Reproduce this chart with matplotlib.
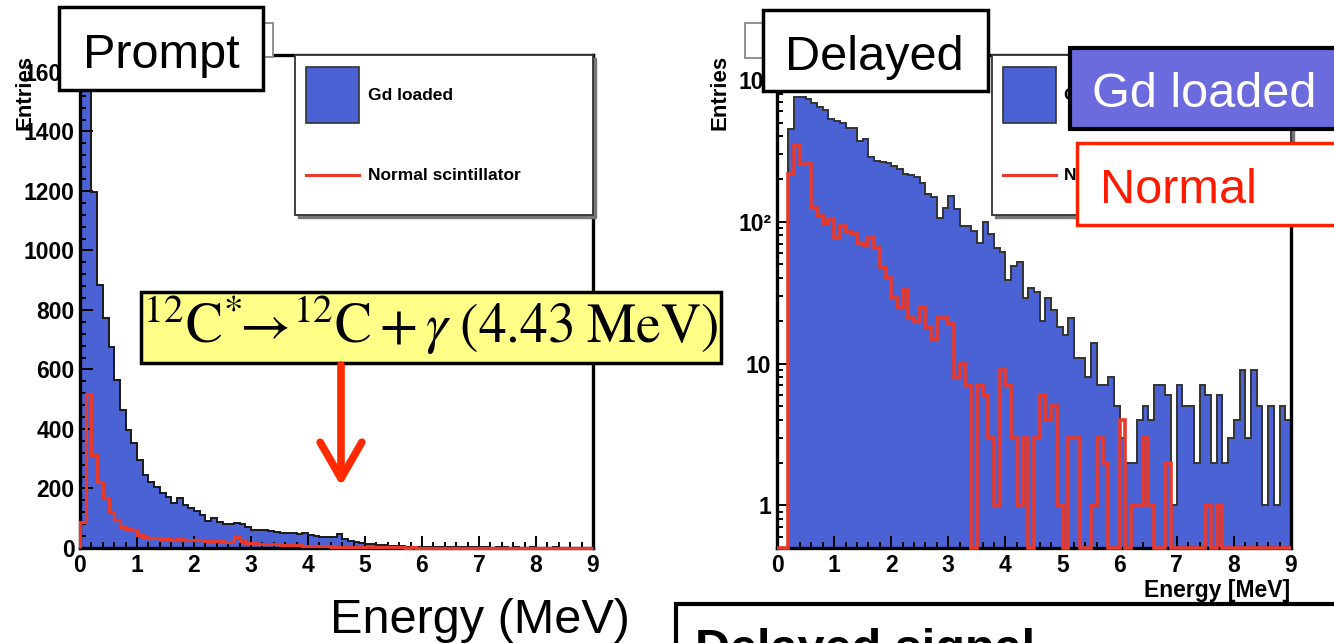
import numpy as np
import matplotlib
matplotlib.use('Agg')
import matplotlib.pyplot as plt
from matplotlib.patches import Rectangle, FancyArrowPatch, ArrowStyle
from matplotlib.lines import Line2D
from matplotlib.ticker import MultipleLocator, FixedLocator, FixedFormatter, LogLocator, NullFormatter

W, H = 1334, 643

# histogram binning: 90 bins of 0.1 MeV
edges = np.round(np.arange(0, 9.001, 0.1), 2)

# prompt energy (linear scale)
prompt_gd = [1560, 1580, 1198, 884, 772, 677, 565, 464, 397, 352,
             296, 245, 223, 206, 184, 173, 150, 168, 144, 134,
             125, 112, 92, 100, 86, 82, 80, 84, 80, 72,
             62, 60, 62, 58, 55, 52, 50, 52, 48, 50,
             45, 40, 38, 36, 38, 48, 30, 22, 20, 18,
             14, 12, 10, 9, 8, 6, 6, 5, 5, 4,
             4, 3, 4, 3, 3, 2, 3, 2, 2, 3,
             2, 2, 1, 2, 2, 1, 2, 1, 1, 2,
             1, 1, 1, 2, 1, 1, 1, 1, 1, 1]
prompt_normal = [87, 517, 312, 222, 168, 121, 94, 71, 65, 60,
                 44, 37, 33, 32, 30, 30, 28, 29, 28, 27,
                 27, 26, 25, 24, 22, 21, 20, 38, 22, 18,
                 16, 15, 14, 13, 12, 11, 10, 9, 9, 8,
                 7, 7, 6, 6, 5, 5, 4, 4, 3, 3,
                 3, 2, 3, 2, 2, 2, 2, 1, 2, 1,
                 1, 1, 1, 1, 1, 1, 0, 1, 1, 0,
                 1, 0, 1, 0, 0, 1, 0, 0, 1, 0,
                 0, 0, 1, 0, 0, 0, 0, 0, 0, 0]

# delayed energy (log scale)
delayed_gd = [0, 0, 450, 760, 760, 730, 690, 640, 610, 530,
              510, 500, 460, 455, 372, 382, 285, 268, 262, 258,
              247, 235, 216, 212, 207, 189, 157, 149, 107, 126,
              152, 123, 94, 93, 86, 71, 99, 82, 65, 61,
              39, 49, 52, 29, 34, 32, 20, 29, 24, 18,
              16, 21, 11, 11, 8, 14, 7, 7, 8, 5,
              3, 2, 2, 4, 5, 4, 7, 7, 6, 1,
              7, 5, 5, 2, 7, 6, 2, 6, 2, 3,
              4, 9, 3, 9, 5, 1, 5, 1, 5, 4]
delayed_normal = [0, 0, 216, 350, 255, 255, 126, 110, 97, 105,
                  77, 93, 84, 82, 71, 68, 77, 65, 48, 40,
                  29, 25, 33, 21, 20, 25, 18, 15, 21, 21,
                  19, 8, 10, 7, 0, 7, 6, 3, 1, 9,
                  7, 3, 1, 3, 0, 3, 6, 4, 5, 1,
                  0, 3, 3, 0, 0, 1, 3, 2, 0, 0,
                  4, 0, 1, 1, 3, 1, 0, 0, 2, 0,
                  0, 0, 0, 0, 0, 1, 0, 1, 0, 0,
                  0, 0, 0, 0, 0, 0, 0, 0, 0, 0]

xticks = list(range(10))
prompt_yticks = [0, 200, 400, 600, 800, 1000, 1200, 1400, 1600]
delayed_yticks = [1, 10, 100, 1000]
delayed_ylabels = ['1', '10', '10²', '10³']

BLUE = '#4a62d4'
RED = '#e8392b'
ROOT_FONT = 'Liberation Sans'

fig = plt.figure(figsize=(W / 100, H / 100), dpi=100)


def fx(x):
    return x / W


def fy(y):
    return 1 - y / H


def box(x0, y0, x1, y1, fc='white', ec='black', lw=2.5, z=5):
    r = Rectangle((fx(x0), fy(y1)), (x1 - x0) / W, (y1 - y0) / H,
                  transform=fig.transFigure, facecolor=fc, edgecolor=ec,
                  linewidth=lw, zorder=z)
    fig.add_artist(r)


def style_axes(ax):
    for s in ax.spines.values():
        s.set_linewidth(2.4)
        s.set_color('black')
    ax.tick_params(which='both', direction='in', top=False, right=False,
                   width=1.4, pad=4)
    ax.tick_params(which='major', length=9)
    ax.tick_params(which='minor', length=4.5)
    ax.set_xlim(0, 9)
    ax.xaxis.set_major_locator(FixedLocator(xticks))
    ax.xaxis.set_minor_locator(MultipleLocator(0.2))
    for lab in ax.get_xticklabels() + ax.get_yticklabels():
        lab.set_fontfamily(ROOT_FONT)
        lab.set_fontweight('bold')
        lab.set_fontsize(16.5)


# ---- left: prompt ----
axL = fig.add_axes([fx(80), fy(548), 513 / W, 493 / H])
axL.stairs(prompt_gd, edges, fill=True, color=BLUE, zorder=1)
axL.stairs(prompt_gd, edges, color='#1a1a1a', lw=1.4, zorder=2)
axL.stairs(prompt_normal, edges, color=RED, lw=2.3, zorder=3, clip_on=False)
axL.set_ylim(0, 1657)
axL.yaxis.set_major_locator(FixedLocator(prompt_yticks))
axL.yaxis.set_minor_locator(MultipleLocator(40))
style_axes(axL)

# ---- right: delayed ----
axR = fig.add_axes([fx(777), fy(548), 514 / W, 493 / H])
axR.set_yscale('log')
dg = np.clip(np.array(delayed_gd, float), 0.5, None)
dn = np.clip(np.array(delayed_normal, float), 0.5, None)
axR.stairs(dg, edges, fill=True, color=BLUE, baseline=0.5, zorder=1)
axR.stairs(dg, edges, color='#333333', lw=1.4, baseline=0.5, zorder=2)
axR.stairs(dn, edges, color=RED, lw=2.6, baseline=0.5, zorder=3, clip_on=False)
axR.set_ylim(0.5, 1500)
axR.yaxis.set_major_locator(FixedLocator(delayed_yticks))
axR.yaxis.set_major_formatter(FixedFormatter(delayed_ylabels))
axR.yaxis.set_minor_locator(LogLocator(base=10, subs=np.arange(2, 10)))
axR.yaxis.set_minor_formatter(NullFormatter())
style_axes(axR)

# axis titles (ROOT style)
fig.text(fx(25), fy(55), 'Entries', rotation=90, ha='center', va='top',
         fontfamily=ROOT_FONT, fontweight='bold', fontsize=16, zorder=7)
fig.text(fx(720), fy(55), 'Entries', rotation=90, ha='center', va='top',
         fontfamily=ROOT_FONT, fontweight='bold', fontsize=16, zorder=7)
fig.text(fx(1290), fy(597), 'Energy [MeV]', ha='right', va='baseline',
         fontfamily=ROOT_FONT, fontweight='bold', fontsize=16.5)


# ROOT legends
def root_legend(x0, y0, x1, y1, t1x):
    box(x0 + 3, y0 + 3, x1 + 3, y1 + 3, fc='#777777', ec='#777777', lw=1, z=3)
    box(x0, y0, x1, y1, fc='white', ec='#333333', lw=1.3, z=3.5)
    box(x0 + 11, y0 + 12, x0 + 64, y0 + 68, fc=BLUE, ec='#333333', lw=1.2, z=4)
    fig.add_artist(Line2D([fx(x0 + 11), fx(x0 + 64)], [fy(y0 + 120), fy(y0 + 120)],
                          transform=fig.transFigure, color=RED, lw=2.2, zorder=4))
    fig.text(fx(t1x), fy(y0 + 41), 'Gd loaded', ha='left', va='center',
             fontfamily=ROOT_FONT, fontweight='bold', fontsize=12.5, zorder=4)
    fig.text(fx(t1x), fy(y0 + 120), 'Normal scintillator', ha='left', va='center',
             fontfamily=ROOT_FONT, fontweight='bold', fontsize=12.5, zorder=4)


root_legend(295, 55, 593, 215, 368)
root_legend(992, 55, 1291, 215, 1064)

# hidden ROOT title boxes
box(225, 23, 273, 57, fc='white', ec='#888888', lw=1.3, z=4)
box(745, 23, 800, 58, fc='white', ec='#888888', lw=1.3, z=4)

# slide annotations
big = dict(fontfamily=ROOT_FONT, fontsize=35, zorder=8)
box(59, 7, 263, 90, lw=2.5, z=7)
fig.text(fx(161), fy(68), 'Prompt', ha='center', va='baseline', color='black', **big)
box(763, 10, 988, 91, lw=2.5, z=7)
fig.text(fx(874), fy(70), 'Delayed', ha='center', va='baseline', color='black', **big)
box(1070, 48, 1350, 129, fc='#6b6bde', ec='black', lw=3, z=7)
fig.text(fx(1092), fy(107), 'Gd loaded', ha='left', va='baseline', color='white', **big)
box(1077, 143, 1350, 225, fc='white', ec='#ff2200', lw=2.5, z=7)
fig.text(fx(1100), fy(203), 'Normal', ha='left', va='baseline', color='#ff1a00', **big)

box(141, 292, 721, 363, fc='#ffff88', ec='black', lw=2.5, z=7)
fig.text(fx(431), fy(343),
         r'$^{12}\mathrm{C}^{*}\!\!\rightarrow\!{}^{12}\mathrm{C}+\gamma\;(4.43\;\mathrm{MeV})$',
         ha='center', va='baseline', fontsize=40, math_fontfamily='stix', zorder=8)

arrow = FancyArrowPatch((fx(341), fy(365)), (fx(341), fy(486)),
                        transform=fig.transFigure,
                        arrowstyle=ArrowStyle('->', head_length=1.3, head_width=0.75),
                        mutation_scale=20, color='#ff2a00', lw=5.5,
                        capstyle='round', joinstyle='round',
                        shrinkA=0, shrinkB=0, zorder=8)
fig.add_artist(arrow)

fig.text(fx(330), fy(633), 'Energy (MeV)', ha='left', va='baseline', color='black', **big)

box(676, 604, 1360, 700, fc='white', ec='black', lw=3, z=7)
fig.text(fx(695), fy(663), 'Delayed signal', ha='left', va='baseline',
         fontweight='bold', color='black', **big)

fig.savefig('out.png', dpi=100)
